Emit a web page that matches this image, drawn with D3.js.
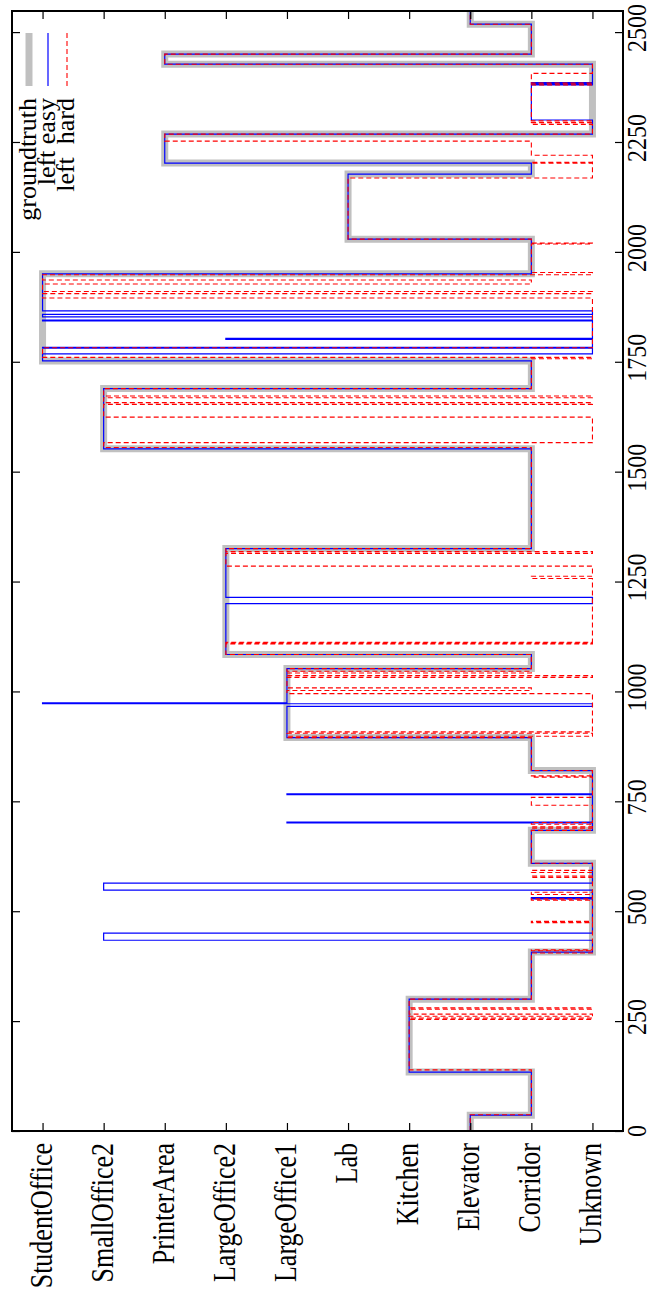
<!DOCTYPE html>
<html>
<head>
<meta charset="utf-8">
<script src="https://cdn.jsdelivr.net/npm/d3@7"></script>
<style>
  body { margin: 0; background: #fff; }
  text { font-family: "Liberation Serif", "DejaVu Serif", serif; fill: #000; }
</style>
</head>
<body>
<div id="vis"></div>
<script>
const W = 652, H = 1292;
const plot = { left: 12, right: 623, top: 11, bottom: 1131 };

// rooms, index 0 at the right-hand side of the picture
const rooms = ['Unknown', 'Corridor', 'Elevator', 'Kitchen', 'Lab',
  'LargeOffice1', 'LargeOffice2', 'PrinterArea', 'SmallOffice2', 'StudentOffice'];
const timeTicks = [0, 250, 500, 750, 1000, 1250, 1500, 1750, 2000, 2250, 2500];
const tEnd = 2548;

// [time when the room starts, room]
const groundTruth = [
  [0, 'Elevator'], [36, 'Corridor'], [134, 'Kitchen'], [300, 'Corridor'], [407, 'Unknown'],
  [609, 'Corridor'], [684, 'Unknown'], [820, 'Corridor'], [895, 'LargeOffice1'], [1052, 'Corridor'],
  [1084, 'LargeOffice2'], [1325, 'Corridor'], [1552, 'SmallOffice2'], [1689, 'Corridor'],
  [1752, 'StudentOffice'], [1950, 'Corridor'], [2029, 'Lab'], [2177, 'Corridor'],
  [2202, 'PrinterArea'], [2268, 'Unknown'], [2427, 'PrinterArea'], [2450, 'Corridor'], [2518, 'Elevator']
];

const leftEasy = [
  [0, 'Elevator'], [36, 'Corridor'], [134, 'Kitchen'], [300, 'Corridor'], [407, 'Unknown'],
  [434, 'SmallOffice2'], [450, 'Unknown'], [528, 'Corridor'], [531, 'Unknown'],
  [548, 'SmallOffice2'], [564, 'Unknown'], [609, 'Corridor'], [684, 'Unknown'],
  [701, 'LargeOffice1'], [703, 'Unknown'], [765, 'LargeOffice1'], [767, 'Unknown'], [820, 'Corridor'],
  [895, 'LargeOffice1'], [966, 'Unknown'], [972, 'StudentOffice'], [974, 'LargeOffice1'],
  [1052, 'Corridor'], [1084, 'LargeOffice2'], [1200, 'Unknown'], [1214, 'LargeOffice2'],
  [1325, 'Corridor'], [1552, 'SmallOffice2'], [1689, 'Corridor'], [1752, 'StudentOffice'],
  [1768, 'Unknown'], [1781, 'StudentOffice'], [1783, 'Unknown'], [1801, 'LargeOffice2'],
  [1803, 'Unknown'], [1843, 'StudentOffice'], [1845, 'Unknown'], [1852, 'StudentOffice'],
  [1858, 'Unknown'], [1866, 'StudentOffice'],
  [1950, 'Corridor'], [2029, 'Lab'], [2177, 'Corridor'], [2202, 'PrinterArea'], [2268, 'Unknown'],
  [2300, 'Corridor'], [2380, 'Unknown'], [2383, 'Corridor'], [2385, 'Unknown'],
  [2427, 'PrinterArea'], [2450, 'Corridor'], [2518, 'Elevator']
];

const leftHard = [
  [0, 'Elevator'], [37, 'Corridor'], [139, 'Kitchen'], [254, 'Unknown'], [257, 'Kitchen'],
  [261, 'Unknown'], [266, 'Kitchen'], [277, 'Unknown'], [280, 'Kitchen'], [300, 'Corridor'],
  [405, 'Unknown'], [410, 'Corridor'], [412, 'Unknown'], [474, 'Corridor'], [477, 'Unknown'],
  [525, 'Corridor'], [528, 'Unknown'], [538, 'Corridor'], [543, 'Unknown'], [577, 'Corridor'],
  [580, 'Unknown'], [588, 'Corridor'], [593, 'Unknown'], [609, 'Corridor'], [684, 'Unknown'],
  [689, 'Corridor'], [692, 'Unknown'], [698, 'Corridor'], [702, 'Unknown'], [741, 'Corridor'],
  [759, 'Unknown'], [805, 'Corridor'], [808, 'Unknown'], [820, 'Corridor'], [895, 'LargeOffice1'],
  [898, 'Unknown'], [905, 'LargeOffice1'], [908, 'Unknown'], [995, 'LargeOffice1'],
  [1002, 'Corridor'], [1008, 'LargeOffice1'], [1032, 'Unknown'], [1036, 'LargeOffice1'],
  [1042, 'Corridor'], [1046, 'LargeOffice1'], [1052, 'Corridor'], [1084, 'LargeOffice2'],
  [1108, 'Unknown'], [1110, 'LargeOffice2'], [1112, 'Unknown'], [1257, 'Corridor'],
  [1262, 'Unknown'], [1285, 'LargeOffice2'], [1314, 'Unknown'], [1318, 'LargeOffice2'],
  [1325, 'Corridor'], [1555, 'SmallOffice2'], [1566, 'Unknown'], [1624, 'SmallOffice2'],
  [1653, 'Unknown'], [1657, 'SmallOffice2'], [1668, 'Unknown'], [1672, 'SmallOffice2'],
  [1689, 'Corridor'], [1757, 'Unknown'], [1760, 'StudentOffice'], [1782, 'Unknown'],
  [1895, 'StudentOffice'], [1905, 'Unknown'], [1910, 'StudentOffice'], [1927, 'Corridor'],
  [1936, 'StudentOffice'], [1948, 'Unknown'], [1953, 'Corridor'], [2018, 'Unknown'], [2020, 'Corridor'],
  [2029, 'Lab'], [2168, 'Unknown'], [2202, 'Corridor'], [2204, 'Unknown'], [2220, 'Corridor'],
  [2252, 'PrinterArea'], [2268, 'Unknown'], [2290, 'Corridor'], [2294, 'Unknown'],
  [2298, 'Corridor'], [2380, 'Unknown'], [2384, 'Corridor'], [2406, 'Unknown'],
  [2427, 'PrinterArea'], [2450, 'Corridor'], [2518, 'Elevator']
];

const seriesNames = ['groundtruth', 'left easy', 'left  hard'];

const svg = d3.select('#vis')
  .append('svg')
  .attr('width', W)
  .attr('height', H);

// rooms run across the page, time runs up the page
const xScale = d3.scaleLinear()
  .domain([-0.5, rooms.length - 0.5])
  .range([plot.right, plot.left]);

const yScale = d3.scaleLinear()
  .domain([0, tEnd])
  .range([plot.bottom, plot.top]);

function stepPoints(seq){
  const pts = seq.map(d => [xScale(rooms.indexOf(d[1])), yScale(d[0])]);
  const last = seq[seq.length - 1];
  pts.push([xScale(rooms.indexOf(last[1])), yScale(tEnd)]);
  return pts;
}

const line = d3.line().curve(d3.curveStepBefore);

svg.append('path')
  .attr('d', line(stepPoints(groundTruth)))
  .attr('fill', 'none')
  .attr('stroke', '#c0c0c0')
  .attr('stroke-width', 7);

svg.append('path')
  .attr('d', line(stepPoints(leftEasy)))
  .attr('fill', 'none')
  .attr('stroke', '#0000ff')
  .attr('stroke-width', 1.2);

svg.append('path')
  .attr('d', line(stepPoints(leftHard)))
  .attr('fill', 'none')
  .attr('stroke', '#ff0000')
  .attr('stroke-width', 1.1)
  .attr('stroke-dasharray', '5,3');

// ticks on all four sides, pointing inwards
const roomIdx = d3.range(rooms.length);
svg.append('g')
  .attr('transform', `translate(0,${plot.top})`)
  .call(d3.axisBottom(xScale).tickValues(roomIdx).tickSize(8).tickFormat(''));
svg.append('g')
  .attr('transform', `translate(0,${plot.bottom})`)
  .call(d3.axisTop(xScale).tickValues(roomIdx).tickSize(8).tickFormat(''));
svg.append('g')
  .attr('transform', `translate(${plot.left},0)`)
  .call(d3.axisRight(yScale).tickValues(timeTicks).tickSize(8).tickFormat(''));
svg.append('g')
  .attr('transform', `translate(${plot.right},0)`)
  .call(d3.axisLeft(yScale).tickValues(timeTicks).tickSize(8).tickFormat(''));
svg.selectAll('.domain').remove();
svg.selectAll('.tick line').attr('stroke', '#000').attr('stroke-width', 1.2);

svg.append('rect')
  .attr('x', plot.left).attr('y', plot.top)
  .attr('width', plot.right - plot.left).attr('height', plot.bottom - plot.top)
  .attr('fill', 'none').attr('stroke', '#000').attr('stroke-width', 2);

// tick labels, turned a quarter left
svg.selectAll('.tlabel')
  .data(timeTicks)
  .join('text')
  .attr('class', 'tlabel')
  .attr('transform', d => `translate(646,${yScale(d) - (d === 0 ? 0 : 4)}) rotate(-90) scale(1,1.15)`)
  .attr('text-anchor', 'middle')
  .style('font-size', '24px')
  .text(d => d);

svg.selectAll('.rlabel')
  .data(rooms)
  .join('text')
  .attr('class', 'rlabel')
  .attr('transform', (d, i) => `translate(${xScale(i) + 9},1143) rotate(-90) scale(1,1.2)`)
  .attr('text-anchor', 'end')
  .style('font-size', '26px')
  .text(d => d);

// legend
const legend = svg.append('g');
const legX = [29, 48, 67];
legend.selectAll('line')
  .data(seriesNames)
  .join('line')
  .attr('x1', (d, i) => legX[i]).attr('x2', (d, i) => legX[i])
  .attr('y1', 33).attr('y2', 86)
  .attr('stroke', (d, i) => ['#c0c0c0', '#0000ff', '#ff0000'][i])
  .attr('stroke-width', (d, i) => [7, 1.2, 1.1][i])
  .attr('stroke-dasharray', (d, i) => i === 2 ? '5,3' : null);

legend.selectAll('text')
  .data(seriesNames)
  .join('text')
  .attr('transform', (d, i) => `translate(${legX[i] + 7},98) rotate(-90)`)
  .attr('text-anchor', 'end')
  .style('font-size', '26px')
  .style('white-space', 'pre')
  .text(d => d);
</script>
</body>
</html>
